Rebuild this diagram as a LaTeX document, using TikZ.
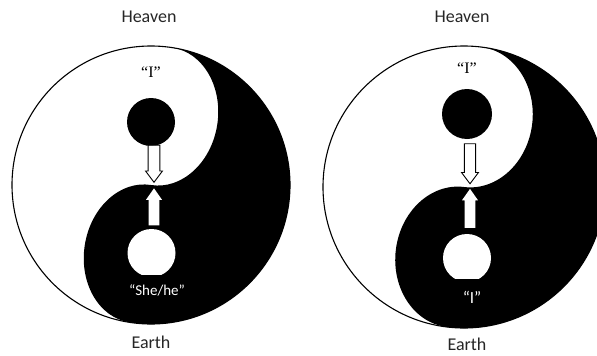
\documentclass[tikz,border=0pt]{standalone}
\usepackage{fontspec}
\setmainfont{Carlito}
\newfontfamily\serifI{Liberation Serif}
\usetikzlibrary{shapes.arrows}

\begin{document}
\begin{tikzpicture}[
  x=1pt, y=1pt,
  every node/.style={font=\fontsize{15}{18}\selectfont},
  dotblk/.style={circle, fill=black, inner sep=0pt},
  dotwht/.style={circle, fill=white, inner sep=0pt},
  ring/.style={circle, draw=black, line width=1.1pt, inner sep=0pt},
  lbl/.style={text=black!85, font=\fontsize{18}{21}\selectfont},
  quo/.style={font=\serifI\fontsize{16}{18}\selectfont},
  inv/.style={fill=black, text=white, inner xsep=2pt, inner ysep=0pt, minimum width=50pt},
  hol/.style={single arrow, draw=black, fill=white, line width=0.9pt, inner xsep=0pt,
              single arrow head extend=2pt, single arrow tip angle=74},
  wha/.style={single arrow, fill=white, inner xsep=0pt,
              single arrow head extend=2pt, single arrow tip angle=70}
]
\useasboundingbox (0,0) rectangle (597,-356);
\clip (0,0) rectangle (597,-356);

% left yin-yang: "She/he"
\begin{scope}[shift={(151,-185)}, rotate=-9]
  \fill (0,139) arc[start angle=90, end angle=-90, radius=139]
    arc[start angle=-90, end angle=-270, x radius=56, y radius=69.5]
    arc[start angle=-90, end angle=90, x radius=56, y radius=69.5] -- cycle;
\end{scope}
\node[ring, minimum size=278pt] (ringL) at (151,-185) {};

\node[dotblk, minimum size=48pt] (selfL) at (151,-122) {};
\node[dotwht, minimum size=48pt] (otherL) at (151.5,-253) {};
\node[quo] (iL) at (151,-72) {“I”};
\node[inv, minimum height=30pt] (sheL) at (157,-290) {“She/he”};

\coordinate (meetL) at (154,-185.5);
\node[hol, rotate=-90, anchor=tip, minimum height=37pt, minimum width=17pt, inner ysep=4pt]
  (downL) at ([yshift=2.5pt]meetL) {};
\node[wha, rotate=90, anchor=tip, minimum height=37pt, minimum width=16pt, inner ysep=3.8pt]
  (upL) at ([yshift=-2.5pt]meetL) {};

\node[lbl] (heavenL) at (149,-17) {Heaven};
\node[lbl] (earthL) at (151,-342) {Earth};

% right yin-yang: "I"
\begin{scope}[shift={(464,-187)}, rotate=-7]
  \fill (0,141) arc[start angle=90, end angle=-90, radius=141]
    arc[start angle=-90, end angle=-270, x radius=60, y radius=70.5]
    arc[start angle=-90, end angle=90, x radius=60, y radius=70.5] -- cycle;
\end{scope}
\node[ring, minimum size=282pt] (ringR) at (464,-187) {};

\node[dotblk, minimum size=50pt] (selfR) at (467,-114) {};
\node[dotwht, minimum size=48pt] (otherR) at (467,-258) {};
\node[quo] (iR) at (467,-68) {“I”};
\node[inv, minimum height=36pt, font=\fontsize{17}{20}\selectfont] (meR) at (472,-297) {“I”};

\coordinate (meetR) at (470,-186.5);
\node[hol, rotate=-90, anchor=tip, minimum height=40pt, minimum width=17pt, inner ysep=3.6pt]
  (downR) at ([yshift=2pt]meetR) {};
\node[wha, rotate=90, anchor=tip, minimum height=39pt, minimum width=16pt, inner ysep=4pt]
  (upR) at ([yshift=-2pt]meetR) {};

\node[lbl] (heavenR) at (462,-17) {Heaven};
\node[lbl] (earthR) at (467,-344) {Earth};
\end{tikzpicture}
\end{document}
